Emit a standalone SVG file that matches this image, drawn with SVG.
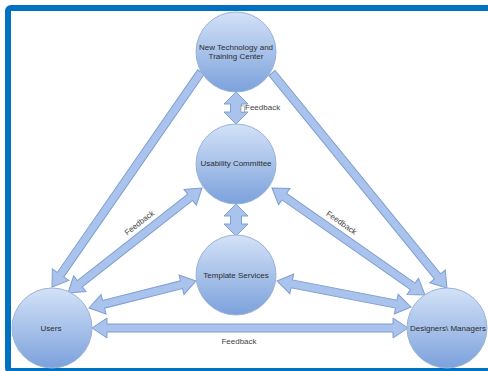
<svg xmlns="http://www.w3.org/2000/svg" width="488" height="371" viewBox="0 0 488 371">
  <defs>
    <linearGradient id="nodeGrad" x1="0" y1="0" x2="0" y2="1">
      <stop offset="0" stop-color="#d3e2f7"/>
      <stop offset="1" stop-color="#7ca1dc"/>
    </linearGradient>
    <style>
      .node circle { fill: url(#nodeGrad); stroke: #9ab2d6; stroke-width: 1; }
      .lbl { font-family: "Liberation Sans", Arial, sans-serif; font-size: 8px; fill: #2d2d2d; text-anchor: middle; }
      .fb { font-family: "Liberation Sans", Arial, sans-serif; font-size: 8px; fill: #444; }
      .arrow { fill: #a9c3ec; stroke: #7d9ed3; stroke-width: 1; stroke-linejoin: miter; }
    </style>
  </defs>
  <rect x="0" y="0" width="488" height="371" fill="#ffffff"/>
  <rect x="8" y="8" width="520" height="363" rx="3" fill="#ffffff" stroke="#0070c0" stroke-width="6"/>

  <g id="connectors">
    <polygon class="arrow" transform="translate(201,72) rotate(124.72)" points="0,-4 246.6,-4 246.6,-10 261.6,0 246.6,10 246.6,4 0,4"/>
    <polygon class="arrow" transform="translate(272,73) rotate(50.86)" points="0,-4 262.2,-4 262.2,-10 277.2,0 262.2,10 262.2,4 0,4"/>
    <polygon class="arrow" transform="translate(236,92) rotate(90)" points="0,0 12,-12 12,-5.5 20,-5.5 20,-12 32,0 20,12 20,5.5 12,5.5 12,12"/>
    <polygon class="arrow" transform="translate(236,204) rotate(90)" points="0,0 12,-12 12,-5.5 20,-5.5 20,-12 32,0 20,12 20,5.5 12,5.5 12,12"/>
    <polygon class="arrow" transform="translate(68,293) rotate(-38.08)" points="0,0 15,-10 15,-4 155.2,-4 155.2,-10 170.2,0 155.2,10 155.2,4 15,4 15,10"/>
    <polygon class="arrow" transform="translate(272,188) rotate(34.96)" points="0,0 15,-10 15,-4 171.7,-4 171.7,-10 186.7,0 171.7,10 171.7,4 15,4 15,10"/>
    <polygon class="arrow" transform="translate(89,308) rotate(-14.16)" points="0,0 15,-10 15,-4 95.4,-4 95.4,-10 110.4,0 95.4,10 95.4,4 15,4 15,10"/>
    <polygon class="arrow" transform="translate(277,281) rotate(10.98)" points="0,0 15,-10 15,-4 121.5,-4 121.5,-10 136.5,0 121.5,10 121.5,4 15,4 15,10"/>
    <polygon class="arrow" transform="translate(92,328)" points="0,0 15,-10 15,-4 301,-4 301,-10 316,0 301,10 301,4 15,4 15,10"/>
    <rect x="241" y="106" width="3.5" height="6" fill="#ffffff" stroke="#888" stroke-width="0.6"/>
    <text class="fb" x="245" y="110">Feedback</text>
    <text class="fb" text-anchor="middle" transform="translate(141,225) rotate(-38)">Feedback</text>
    <text class="fb" text-anchor="middle" transform="translate(340,225) rotate(35)">Feedback</text>
    <text class="fb" text-anchor="middle" x="239" y="344">Feedback</text>
  </g>

  <g id="nttc" class="node">
    <circle cx="236" cy="52" r="40"/>
    <text class="lbl" x="236" y="50">New Technology and</text>
    <text class="lbl" x="236" y="59">Training Center</text>
  </g>
  <g id="usability" class="node">
    <circle cx="236" cy="164" r="40"/>
    <text class="lbl" x="236" y="166">Usability Committee</text>
  </g>
  <g id="template" class="node">
    <circle cx="236" cy="275" r="40"/>
    <text class="lbl" x="236" y="278">Template Services</text>
  </g>
  <g id="users" class="node">
    <circle cx="52" cy="328" r="40"/>
    <text class="lbl" x="51" y="331">Users</text>
  </g>
  <g id="designers" class="node">
    <circle cx="447" cy="328" r="40"/>
    <text class="lbl" x="448" y="331">Designers\ Managers</text>
  </g>
</svg>
